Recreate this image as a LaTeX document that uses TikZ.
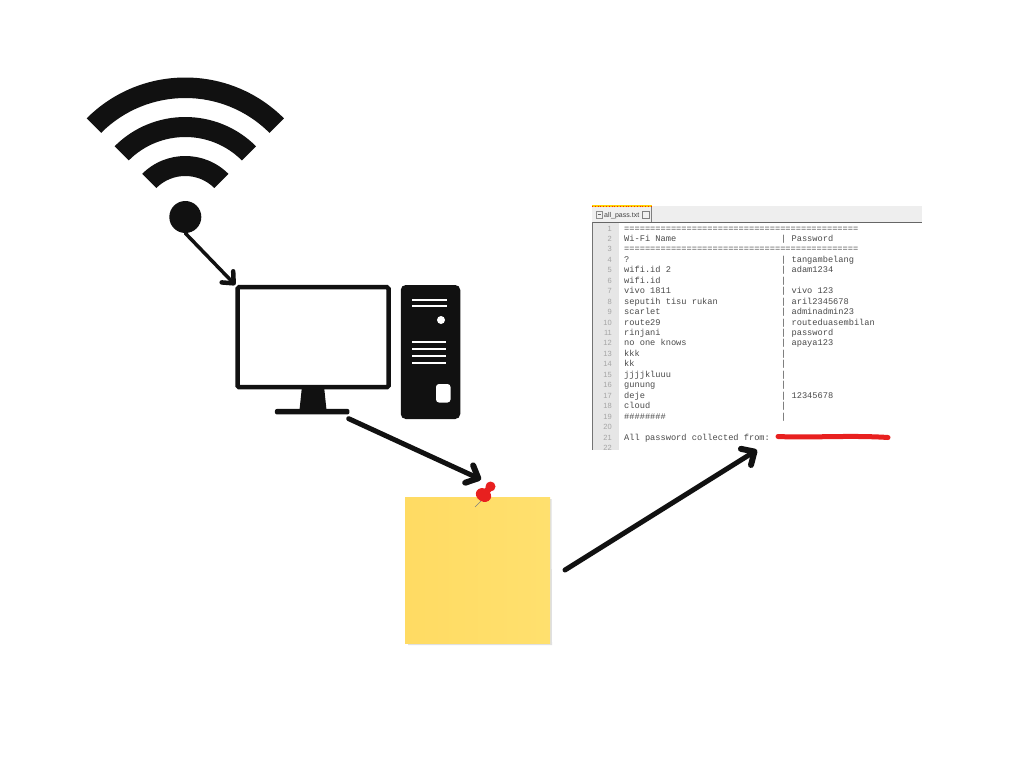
\documentclass[tikz,border=0pt]{standalone}
\usepackage{fontspec}
\setmainfont{Liberation Sans}
\newfontfamily\codefont{Liberation Mono}
\usetikzlibrary{arrows.meta,calc}
\definecolor{ink}{HTML}{111111}
\definecolor{codeink}{HTML}{4A4A4A}
\definecolor{gutter}{HTML}{E6E6E6}
\definecolor{tabbar}{HTML}{EEEEEE}
\definecolor{pinred}{HTML}{E8201F}
\tikzset{
  flow/.style={draw=ink,line width=#1,line cap=round,-{Straight Barb[length=10pt,width=19pt,round,line width=6pt]}},
  thinflow/.style={draw=ink,line width=#1,line cap=round,-{Straight Barb[length=9pt,width=16pt,round,line width=4.5pt]}},
  solidink/.style={fill=ink,draw=none},
  slot/.style={fill=white,draw=none},
  code/.style={font=\codefont\fontsize{8.67}{10}\selectfont,text=codeink,inner sep=0pt,anchor=base west},
  lineno/.style={font=\fontsize{7.5}{9}\selectfont,text=black!35,inner sep=0pt,anchor=base east},
}
\newcommand{\coderow}[3]{%
  \pgfmathsetmacro{\rowy}{231+(#1-1)*10.45}
  \node[lineno] (n#1) at (612,\rowy) {#1};
  \node[code] (a#1) at (624,\rowy) {#2};
  \ifx\relax#3\relax\else\node[code] (b#1) at (781,\rowy) {#3};\fi
}
\begin{document}
\begin{tikzpicture}[x=1pt,y=-1pt]
\useasboundingbox (0,0) rectangle (1024,768);
\fill[white] (0,0) rectangle (1024,768);

% Wi-Fi symbol
\node[circle,solidink,minimum size=32pt,inner sep=0pt] (dot) at (185.3,217) {};
\begin{scope}[shift={(185.3,217)}]
  \fill[ink] (225:139.5) arc[start angle=225,end angle=315,radius=139.5] -- (315:119) arc[start angle=315,end angle=225,radius=119] -- cycle;
  \fill[ink] (225:100) arc[start angle=225,end angle=315,radius=100] -- (315:80) arc[start angle=315,end angle=225,radius=80] -- cycle;
  \fill[ink] (225:61) arc[start angle=225,end angle=315,radius=61] -- (315:41) arc[start angle=315,end angle=225,radius=41] -- cycle;
\end{scope}

% Monitor
\node[draw=ink,line width=4.5pt,fill=white,rounded corners=1.5pt,minimum width=151pt,minimum height=100pt,inner sep=0pt,outer sep=2.25pt] (monitor) at (313,337.2) {};
\fill[ink] (301.7,389) -- (324.3,389) -- (326.5,410) -- (299.5,410) -- cycle;
\node[solidink,rounded corners=2pt,minimum width=74.5pt,minimum height=5.5pt,inner sep=0pt] (base) at (312.2,411.7) {};

% Tower
\node[solidink,rounded corners=5pt,minimum width=59.5pt,minimum height=134pt,inner sep=0pt] (tower) at (430.5,352) {};
\fill[slot] (412.3,299.2) rectangle (446.5,301.4);
\fill[slot] (412.3,304.6) rectangle (446.5,306.8);
\fill[slot] (441,320) circle[radius=4];
\foreach \yy in {340.5,347.5,354.6,361.5}
  \fill[slot] (411.5,\yy) rectangle (445.5,\yy+2.2);
\fill[slot,rounded corners=3pt] (436,384) rectangle (450.5,402.5);

% Sticky note
\fill[black!12] (408,500) -- (551.5,499) -- (552,645) -- (408,645) -- cycle;
\node[left color={rgb,255:red,255;green,219;blue,99},right color={rgb,255:red,255;green,224;blue,110},draw=none,minimum width=145pt,minimum height=146pt,inner sep=0pt] (note) at (477.5,570) {};

% Push pin
\draw[black!50,line width=0.6pt] (481,501) -- (475,507);
\fill[pinred,rotate around={-30:(483.5,495)}] (483.5,495) ellipse[x radius=8,y radius=6.5];
\draw[pinred,line width=6.5pt] (485,494) -- (490,487);
\fill[pinred] (490.5,486.5) circle[radius=5];
\coordinate (pin) at (481,479.5);

% Screenshot of the text file
\fill[tabbar] (592,206) rectangle (922,222);
\fill[black!6] (592,208) rectangle (650,222);
\draw[black!50,line width=0.5pt] (651.5,207) -- (651.5,222);
\draw[yellow!70!orange,line width=1.6pt] (592,206) -- (652,206);
\draw[red!70!orange,line width=0.8pt,dotted] (592,206) -- (652,206);
\draw[black!60,line width=1pt] (592,222.5) -- (922,222.5);
\fill[gutter] (593,223) rectangle (619,450);
\draw[black!55,line width=1pt] (592.5,222) -- (592.5,450);
\draw[black!45,line width=0.5pt] (596,211) rectangle (602,218);
\draw[black!60,line width=0.5pt] (597.5,214.5) -- (600.5,214.5);
\node[font=\fontsize{7}{8}\selectfont,text=black!75,inner sep=0pt,anchor=base west] (tab) at (604,217) {all\_pass.txt};
\draw[black!50,line width=0.5pt] (642,211) rectangle (649,218);
\coderow{1}{=============================================}{}
\coderow{2}{Wi-Fi Name}{| Password}
\coderow{3}{=============================================}{}
\coderow{4}{?}{| tangambelang}
\coderow{5}{wifi.id 2}{| adam1234}
\coderow{6}{wifi.id}{|}
\coderow{7}{vivo 1811}{| vivo 123}
\coderow{8}{seputih tisu rukan}{| aril2345678}
\coderow{9}{scarlet}{| adminadmin23}
\coderow{10}{route29}{| routeduasembilan}
\coderow{11}{rinjani}{| password}
\coderow{12}{no one knows}{| apaya123}
\coderow{13}{kkk}{|}
\coderow{14}{kk}{|}
\coderow{15}{jjjjkluuu}{|}
\coderow{16}{gunung}{|}
\coderow{17}{deje}{| 12345678}
\coderow{18}{cloud}{|}
\coderow{19}{\#\#\#\#\#\#\#\#}{|}
\coderow{20}{}{}
\coderow{21}{All password collected from:}{}
\coderow{22}{}{}
\draw[pinred,line width=5pt,line cap=round] (778,436.5) .. controls (810,438) and (850,435) .. (888,437.5);
\coordinate (shot) at (757,450);
\coordinate (noteout) at (565,570);

% Connectors
\draw[thinflow=3.5pt] (dot.south) -- (monitor.north west);
\coordinate (basestart) at ($(base.south east)+(-1,4)$);
\draw[flow=5pt] (basestart) -- (pin);
\draw[flow=5pt] (noteout) -- (shot);
\end{tikzpicture}
\end{document}
